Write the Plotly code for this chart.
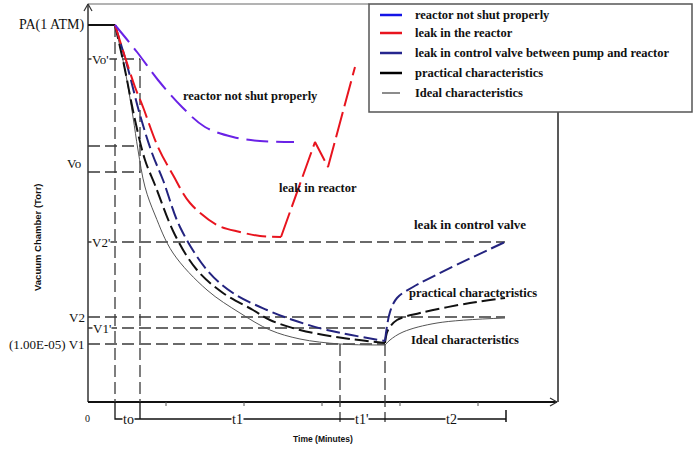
import plotly.graph_objects as go

# ---------------- schematic data (t = time units, v = pressure level units) ----------------
# reference pressure levels
PA, VO_P, VO_HI, VO_LO, V2_P, V2, V1_P, V1 = 377, 343, 256, 230, 160, 85, 74, 58
# time marks
T_START, T0_END, T1_END, T1P_END, T2_END, T_AXIS = 27, 52, 252, 297, 418, 470

# reactor not shut properly
shut_t = [27, 49, 70, 94, 117, 145, 172, 206]
shut_v = [377, 350, 322, 295, 275, 265, 261, 260]

# leak in the reactor (pump-down, then rising)
leak_down_t = [27, 37, 47, 55, 70, 85, 102, 129, 152, 172, 193]
leak_down_v = [377, 345, 315, 295, 255, 227, 199, 177, 170, 166, 165]
leak_up_t = [193, 227, 240, 267]
leak_up_v = [165, 260, 235, 335]

# leak in control valve between pump and reactor
valve_down_t = [27, 39, 52, 64, 75, 92, 119, 145, 179, 205, 239, 297]
valve_down_v = [377, 337, 287, 249, 222, 175, 132, 109, 92, 82, 72, 61]
valve_up_t = [297, 302, 309, 325, 417]
valve_up_v = [61, 90, 104, 115, 160]

# practical characteristics
prac_down_t = [27, 36, 47, 57, 67, 87, 109, 135, 165, 182, 212, 255, 297]
prac_down_v = [377, 337, 282, 242, 217, 167, 132, 109, 92, 82, 72, 64, 59]
prac_up_t = [297, 300, 309, 332, 382, 417]
prac_up_v = [59, 72, 82, 89, 99, 104]

# ideal characteristics
ideal_down_t = [27, 37, 45, 50, 57, 67, 85, 119, 152, 182, 212, 252, 297]
ideal_down_v = [377, 332, 285, 252, 215, 187, 149, 112, 89, 72, 63, 58, 57]
ideal_up_t = [297, 302, 315, 349, 417]
ideal_up_v = [57, 62, 70, 79, 84]

axis_ticks_t = [78, 156, 234, 312, 390]

legend_labels = ["reactor not shut properly", "leak in the reactor",
                 "leak in control valve between pump and reactor",
                 "practical characteristics", "Ideal characteristics"]
legend_colors = ["#1414e6", "#e8141e", "#26268e", "#000000", "#666666"]

C_SHUT = "#6a22e6"
C_LEAK = "#e8141e"
C_VALVE = "#23237f"
C_PRAC = "#111111"
C_IDEAL = "#555555"
C_REF = "#3a3a3a"

SERIF = "Liberation Serif, Times New Roman, serif"
SANS = "Liberation Sans, Arial, sans-serif"

fig = go.Figure()


def line(xs, ys, color, width, dash="solid", shape="linear"):
    fig.add_trace(go.Scatter(x=xs, y=ys, mode="lines", showlegend=False, hoverinfo="skip",
                             line=dict(color=color, width=width, dash=dash, shape=shape,
                                       smoothing=1.0 if shape == "spline" else None)))


N = None
# frame / axes
line([0, 0], [0, 398], "#333333", 1.5)
line([0, 281], [398, 398], "#9a9a9a", 1.5)
line([-4, 0, 4], [391, 398, 391], "#333333", 1.2)
line([0, 469], [0, 0], "#111111", 2)
line([462, 469, 462], [4, 0, -4], "#333333", 1.2)
line([T_AXIS, T_AXIS], [0, 290], "#222222", 1.5)
tx, ty = [], []
for t in axis_ticks_t:
    tx += [t, t, N]
    ty += [0, -4, N]
line(tx, ty, "#555555", 1)

# reference dashed lines
DREF = "12px,5px"
line([0, T0_END, N, 0, T0_END, N, 0, T0_END], [VO_P, VO_P, N, VO_HI, VO_HI, N, VO_LO, VO_LO], C_REF, 1.3, DREF)
line([0, 417], [V2_P, V2_P], C_REF, 1.3, DREF)
line([0, 417], [V2, V2], C_REF, 1.3, DREF)
line([0, T1P_END], [V1_P, V1_P], C_REF, 1.3, DREF)
line([0, T1P_END], [V1, V1], C_REF, 1.3, DREF)
line([0, T_START], [PA, PA], "#111111", 2)
line([T_START, T_START, N, T0_END, T0_END], [PA, 0, N, VO_P, 0], C_REF, 1.3, DREF)
line([T1_END, T1_END, N, T1P_END, T1P_END], [V1, -20, N, V1, -20], C_REF, 1.3, DREF)

# time brackets
line([T_START, T_START, T2_END], [0, -17, -17], "#111111", 1.3)
line([T0_END, T0_END], [0, -17], "#111111", 1.3)
line([T2_END, T2_END], [-8, -20], "#111111", 1.5)

# curves
line(ideal_down_t, ideal_down_v, C_IDEAL, 1, "solid", "spline")
line(ideal_up_t, ideal_up_v, C_IDEAL, 1, "solid", "spline")
line(prac_down_t, prac_down_v, C_PRAC, 2, "14px,5px", "spline")
line(prac_up_t, prac_up_v, C_PRAC, 2, "14px,5px", "spline")
line(valve_down_t, valve_down_v, C_VALVE, 2, "14px,5px", "spline")
line(valve_up_t, valve_up_v, C_VALVE, 2, "14px,5px", "spline")
line(leak_down_t, leak_down_v, C_LEAK, 2, "20px,6px", "spline")
line(leak_up_t, leak_up_v, C_LEAK, 2, "26px,6px", "linear")
line(shut_t, shut_v, C_SHUT, 2, "22px,8px", "spline")

# legend box
fig.add_shape(type="rect", x0=281, x1=604, y0=290, y1=398, line=dict(color="#555555", width=1.5),
              fillcolor="rgba(0,0,0,0)", layer="above")
leg_v = [387, 369, 349, 329, 309]
for lab, col, v in zip(legend_labels, legend_colors, leg_v):
    gray = col == "#666666"
    fig.add_trace(go.Scatter(x=[294 if gray else 292, 312 if gray else 314], y=[v, v], mode="lines",
                             showlegend=False, hoverinfo="skip",
                             line=dict(color=col, width=1.5 if gray else 2.5)))
    fig.add_annotation(x=325, y=v, text="<b>" + lab + "</b>", showarrow=False, xanchor="left",
                       yanchor="middle", font=dict(family=SERIF, size=12.5, color="#111111"))


# text annotations
def ann(x, y, text, size=12.5, xanchor="center", family=SERIF, bg=None, textangle=0, color="#111111"):
    fig.add_annotation(x=x, y=y, text=text, showarrow=False, xanchor=xanchor, yanchor="middle",
                       font=dict(family=family, size=size, color=color), textangle=textangle,
                       bgcolor=bg, borderpad=0)


ann(-2, PA, "PA(1 ATM)", 14, "right")
ann(3, VO_P, "Vo'", 13, "left", bg="white")
ann(-6, 239, "Vo", 13, "right")
ann(3, V2_P, "V2'", 13, "left", bg="white")
ann(-2, V2, "V2", 13, "right")
ann(4, V1_P, "V1'", 13, "left", bg="white")
ann(-2, V1, "(1.00E-05) V1", 13, "right")

ann(162, 306, "<b>reactor not shut properly</b>")
ann(230, 214, "<b>leak in reactor</b>")
ann(382, 178, "<b>leak in control valve</b>", 13)
ann(385, 109, "<b>practical characteristics</b>")
ann(377, 62, "<b>Ideal characteristics</b>")

ann(-1, -16, "0", 10)
ann(40, -17, "to", 14, bg="white")
ann(149, -17, "t1", 14, bg="white")
ann(273, -17, "t1'", 14, bg="white")
ann(363, -17, "t2", 14, bg="white")
ann(235, -37, "<b>Time (Minutes)</b>", 8.5, family=SANS)
ann(-51, 165, "<b>Vacuum Chamber (Torr)</b>", 9.5, family=SANS, textangle=-90)

fig.update_layout(
    width=694, height=451, autosize=False,
    margin=dict(l=0, r=0, t=0, b=0),
    paper_bgcolor="white", plot_bgcolor="white",
    xaxis=dict(range=[-88, 606], visible=False, fixedrange=True),
    yaxis=dict(range=[-49, 402], visible=False, fixedrange=True),
    showlegend=False,
    hovermode=False,
)

fig.write_html("out.html", config={"displayModeBar": False, "staticPlot": True},
               post_script="document.body.style.margin='0';document.body.style.padding='0';")
